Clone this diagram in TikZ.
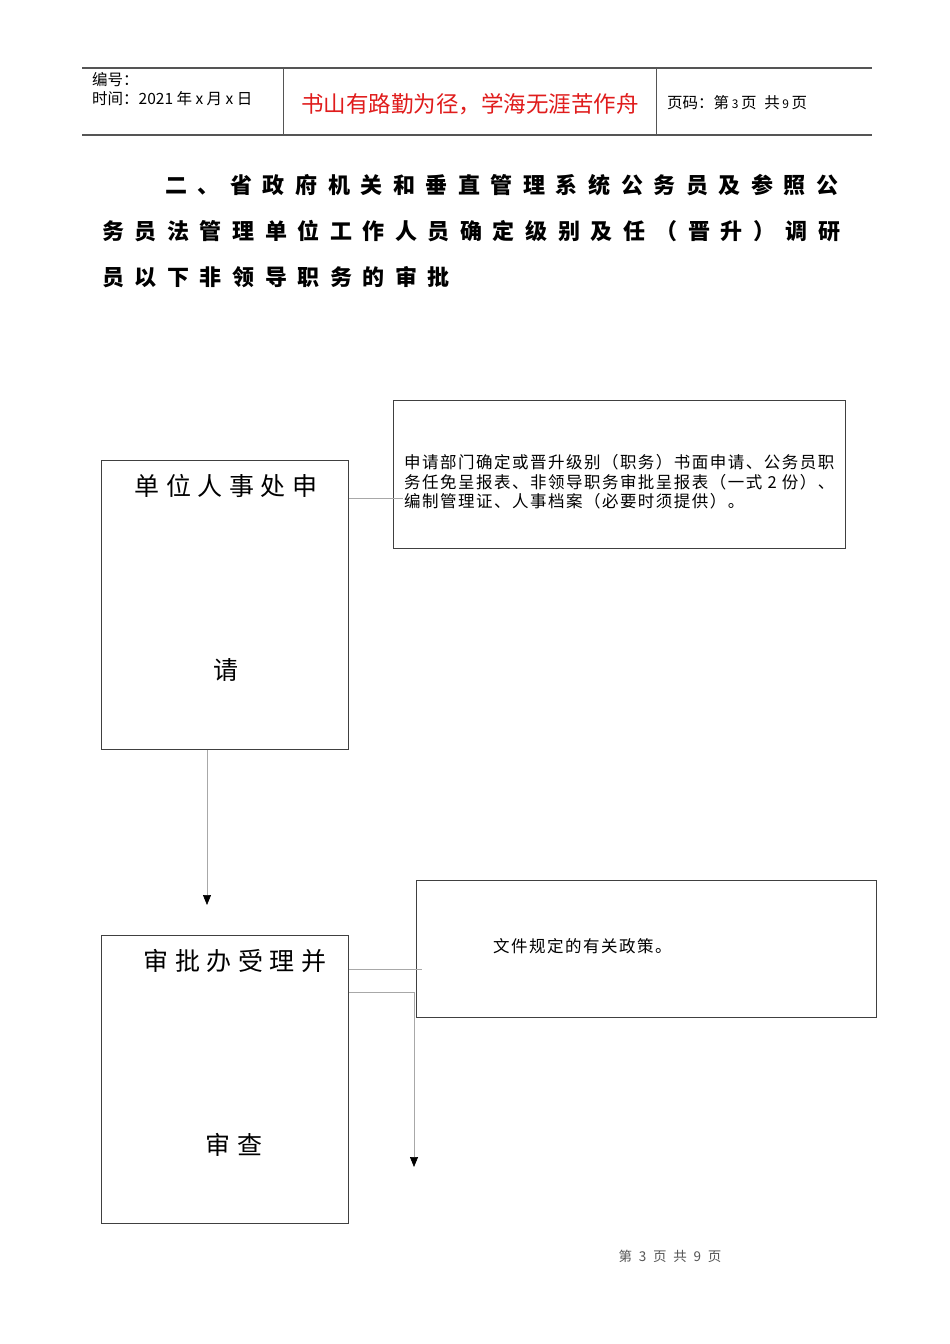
\documentclass[tikz,border=0pt]{standalone}
\usepackage{fontspec}
\setmainfont{Liberation Serif}
\newfontfamily\cjk{Noto Sans CJK SC}
\usetikzlibrary{arrows.meta,calc}
\definecolor{boxline}{HTML}{404040}
\definecolor{connc}{HTML}{A8A8A8}
\definecolor{hdrred}{HTML}{E01C1C}
\definecolor{hdrline}{HTML}{555555}
\begin{document}
\begin{tikzpicture}[x=1pt,y=-1pt,
  box/.style={draw=boxline, line width=0.9pt, inner sep=0pt, anchor=north west},
  conn/.style={draw=connc, line width=0.7pt},
  tipped/.style={-{Triangle[width=8pt,length=10pt,color=black]}},
  hdr/.style={font=\cjk\fontsize{15.5}{18}\selectfont, inner sep=0pt, anchor=west},
  title/.style={font=\cjk\bfseries\addfontfeature{LetterSpace=48}\fontsize{22}{26}\selectfont, inner sep=0pt, anchor=west},
  big/.style={font=\cjk\addfontfeature{LetterSpace=26}\fontsize{25}{30}\selectfont, inner sep=0pt},
  small/.style={font=\cjk\addfontfeature{LetterSpace=9}\fontsize{16.5}{19.5}\selectfont, inner sep=0pt, align=left}
]
\useasboundingbox (0,0) rectangle (950,1344);
\fill[white] (0,0) rectangle (950,1344);

% header table
\draw[hdrline, line width=1.2pt] (82,68) -- (872,68);
\draw[hdrline, line width=1.2pt] (82,135) -- (872,135);
\draw[hdrline, line width=0.9pt] (283,68) -- (283,135);
\draw[hdrline, line width=0.9pt] (656,68) -- (656,135);
\node[hdr] (h1) at (92,80) {编号：};
\node[hdr] (h2) at (92,99) {时间：2021 年 x 月 x 日};
\node[font=\cjk\fontsize{22.5}{26}\selectfont, text=hdrred, inner sep=0pt] (h3) at (470,104) {书山有路勤为径，学海无涯苦作舟};
\node[hdr] (h4) at (667,103) {页码：第\,{\fontsize{12}{14}\selectfont 3}\,页\enspace 共\,{\fontsize{12}{14}\selectfont 9}\,页};

% title
\node[title] (t1) at (165,185) {二、省政府机关和垂直管理系统公务员及参照公};
\node[title] (t2) at (102,231) {务员法管理单位工作人员确定级别及任（晋升）调研};
\node[title] (t3) at (102,277) {员以下非领导职务的审批};

% boxes
\node[box, minimum width=247pt, minimum height=289pt] (A) at (101,460) {};
\node[big] (A1) at (226,486) {单位人事处申};
\node[big] (A2) at (226,670) {请};

\node[box, minimum width=452pt, minimum height=148pt] (B) at (393,400) {};
\node[small, anchor=west] (B1) at (404,482) {申请部门确定或晋升级别（职务）书面申请、公务员职\\务任免呈报表、非领导职务审批呈报表（一式 2 份）、\\编制管理证、人事档案（必要时须提供）。};

\node[box, minimum width=247pt, minimum height=288pt] (C) at (101,935) {};
\node[big] (C1) at (235,961) {审批办受理并};
\node[big] (C2) at (234,1145) {审查};

\node[box, minimum width=460pt, minimum height=137pt] (D) at (416,880) {};
\node[small, anchor=west] (D1) at (493,946) {文件规定的有关政策。};

% connectors
\coordinate (a1) at (A.east |- 0,498);
\draw[conn] (a1) -- ($(B.west |- a1)+(10,0)$);
\coordinate (a2) at (207,749);
\coordinate (a3) at (207,905);
\draw[conn, tipped] (a2 |- A.south) -- (a3);
\coordinate (c1) at (C.east |- 0,969);
\draw[conn] (c1) -- ($(D.west |- c1)+(6,0)$);
\coordinate (c2) at (C.east |- 0,992);
\coordinate (c3) at (414,992);
\coordinate (c4) at (414,1167);
\draw[conn, tipped] (c2) -- (c3) -- (c4);

% footer
\node[font=\cjk\fontsize{13.5}{15}\selectfont, text=hdrline, inner sep=0pt] (f) at (670,1256) {第\enspace 3\enspace 页\enspace 共\enspace 9\enspace 页};
\end{tikzpicture}
\end{document}
